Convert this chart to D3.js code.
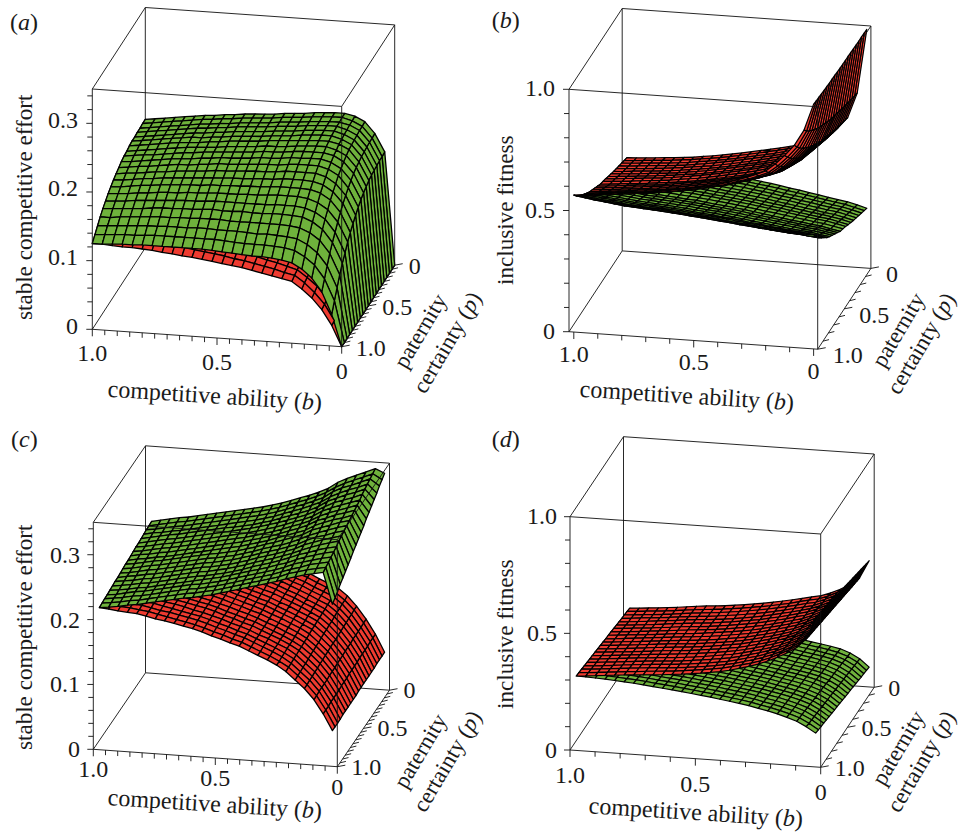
<!DOCTYPE html>
<html>
<head>
<meta charset="utf-8">
<script src="https://cdn.jsdelivr.net/npm/d3@7"></script>
<style>
  body { margin: 0; background: #fff; }
  text { font-family: "Liberation Serif", serif; fill: #1a1a1a; font-size: 24px; }
  text.ytitle { font-size: 23.1px; }
  text.xtitle { font-size: 24px; }
  text.ptitle { font-size: 23px; }
</style>
</head>
<body>
<svg id="chart" width="962" height="832"></svg>
<script>
// grid nodes, back row (p = 0) first
var pRows = d3.range(21).map(function (i) { return i / 20 })
var bColsFull = d3.range(26).map(function (i) { return 1 - i / 25 })
var bColsCut = [0.975, 0.937, 0.899, 0.86, 0.822, 0.784, 0.746, 0.708, 0.669, 0.631, 0.593, 0.555, 0.516, 0.478, 0.44, 0.402, 0.364, 0.326, 0.287, 0.249, 0.211, 0.173, 0.135, 0.096, 0.058, 0.02]

// surface heights in thousandths, one row per p
var aGreen = [
  [187,189,191,193,195,197,199,200,202,203,205,206,207,208,210,211,212,214,215,216,216,213,206,190,164,0],
  [187,189,191,193,195,197,199,200,202,203,205,206,207,208,210,211,212,214,215,216,216,212,205,189,163,0],
  [186,188,190,192,194,196,198,199,201,202,204,205,206,207,209,210,211,213,214,215,215,212,205,189,163,0],
  [186,188,190,192,194,196,198,199,201,202,204,205,206,207,209,210,211,213,214,215,215,211,204,188,162,0],
  [185,187,189,191,193,195,197,198,200,201,203,204,205,206,208,209,210,212,213,214,214,210,203,187,161,0],
  [185,187,189,191,193,195,197,197,199,200,202,203,204,205,207,208,209,211,212,213,213,209,202,186,160,0],
  [184,186,188,190,192,194,195,196,198,199,201,202,203,204,206,207,208,209,210,211,211,208,201,184,158,0],
  [182,184,186,188,190,192,194,195,196,197,199,200,201,202,204,204,205,207,208,209,209,205,198,182,155,0],
  [181,183,185,186,188,190,192,193,195,196,197,198,199,200,202,202,203,205,206,206,206,203,195,179,152,0],
  [179,180,182,184,186,188,189,190,192,193,195,195,196,197,199,199,200,202,202,203,203,199,191,175,148,0],
  [176,178,180,181,183,185,187,187,189,190,192,192,193,194,195,196,196,198,199,199,199,195,187,170,143,0],
  [173,175,176,178,180,181,183,184,185,186,188,188,189,190,191,191,192,194,194,194,194,190,181,165,137,0],
  [170,171,173,175,176,178,179,180,181,182,183,184,185,185,186,187,187,189,189,189,188,184,175,159,131,0],
  [166,167,169,171,172,174,175,176,177,177,179,179,180,180,181,181,182,183,183,183,182,178,169,152,124,0],
  [162,163,164,166,167,169,170,170,172,172,173,174,174,174,175,175,176,177,177,177,175,170,161,144,116,0],
  [157,158,159,161,162,163,164,165,166,166,167,168,168,168,168,168,168,169,169,169,167,162,153,135,106,0],
  [152,153,154,155,156,158,159,159,160,160,161,162,161,161,162,161,161,162,162,161,160,154,144,126,97,0],
  [146,146,148,149,150,151,152,152,153,153,154,154,154,153,153,153,153,153,153,152,150,144,134,116,86,0],
  [139,140,141,142,143,144,144,145,145,145,146,146,145,145,145,144,143,144,143,142,140,133,122,104,73,0],
  [132,133,134,135,135,136,137,137,137,137,137,137,137,136,135,134,134,134,133,132,129,121,110,91,60,0],
  [125,125,126,127,127,128,128,128,128,128,128,128,127,126,125,124,123,123,122,120,117,109,97,78,46,0]
]
var aRed = [
  [187,185,182,180,177,175,172,169,166,163,160,156,152,148,144,140,135,130,125,119,112,101,88,70,42,0],
  [187,185,182,180,177,175,172,169,166,163,160,156,152,148,144,140,135,130,125,119,112,101,88,70,42,0],
  [186,184,181,179,176,174,171,168,166,163,160,156,152,148,144,140,135,130,125,119,112,101,88,70,42,0],
  [186,184,181,179,176,174,171,168,165,162,159,155,151,147,143,139,135,130,125,119,112,101,88,70,42,0],
  [185,184,181,179,176,174,171,168,165,162,159,155,151,147,143,139,134,129,124,118,111,100,88,70,42,0],
  [185,183,180,178,175,173,170,167,164,161,158,154,151,147,143,139,134,129,124,118,111,100,87,69,42,0],
  [184,182,179,177,174,172,169,167,164,161,158,154,150,146,142,138,133,128,124,118,111,100,87,69,41,0],
  [182,181,178,176,173,171,168,165,162,159,157,153,149,145,141,137,133,128,123,117,110,99,87,69,41,0],
  [181,179,176,174,172,170,167,164,161,158,156,152,148,144,140,137,132,127,122,116,110,99,86,68,41,0],
  [179,177,174,172,170,168,165,162,160,157,154,150,146,143,139,135,131,126,121,115,109,98,85,68,40,0],
  [176,174,172,170,168,166,163,160,158,155,152,148,145,141,138,134,129,125,120,114,108,97,84,67,40,0],
  [173,172,169,167,165,163,161,158,155,152,150,146,143,139,136,132,128,123,118,113,107,96,84,66,39,0],
  [170,168,166,164,162,160,158,155,153,150,147,144,141,137,134,130,126,121,117,112,106,95,82,65,39,0],
  [166,165,162,161,159,157,155,152,150,147,145,141,138,135,131,128,124,119,115,110,105,94,81,64,38,0],
  [162,160,158,157,155,153,151,149,146,144,142,138,135,132,129,126,121,117,113,108,103,92,80,63,37,0],
  [157,156,154,152,151,149,147,145,142,140,138,135,132,129,126,123,119,115,111,106,101,91,78,61,36,0],
  [152,151,149,147,146,145,143,141,139,136,134,131,129,126,123,120,116,112,108,104,99,89,77,60,35,0],
  [146,145,143,142,141,140,138,136,134,132,130,127,125,122,119,117,113,109,106,102,97,87,75,58,34,0],
  [139,139,137,136,135,134,133,130,129,127,125,123,120,118,116,113,110,106,103,99,95,85,73,56,33,0],
  [132,132,131,130,129,128,127,125,124,122,120,118,116,114,111,109,106,103,100,96,93,83,70,54,31,0],
  [125,125,124,123,123,122,121,119,118,116,115,113,111,109,107,105,102,99,96,93,90,80,68,52,30,0]
]
var bGreen = [
  [386,382,378,374,370,366,362,359,355,352,348,343,338,333,327,322,315,308,302,295,288,281,274,268,258,247],
  [391,387,383,379,375,371,367,364,360,357,353,348,343,338,332,327,321,314,308,301,294,287,280,274,264,254],
  [397,393,388,384,380,376,372,369,365,362,358,354,349,344,338,333,326,319,313,307,300,293,286,280,271,260],
  [402,398,394,390,385,381,377,374,371,368,364,359,354,349,343,338,332,325,319,312,306,299,292,287,277,267],
  [407,403,399,395,391,387,383,380,376,373,369,364,359,354,349,344,337,330,325,318,311,305,298,293,284,274],
  [413,408,404,400,396,392,388,385,381,378,374,369,364,360,354,349,343,336,330,324,317,311,304,299,290,280],
  [419,415,410,406,402,398,394,391,387,384,380,375,371,366,360,355,349,343,337,331,324,318,312,306,298,288],
  [425,421,416,412,408,404,400,397,393,390,386,381,377,372,367,362,355,349,344,337,331,325,319,314,305,296],
  [433,428,423,419,415,410,407,404,400,397,393,389,384,379,374,369,363,357,351,345,339,333,327,322,314,305],
  [438,433,428,424,420,416,412,409,405,402,398,394,389,385,379,374,368,362,357,351,345,339,333,328,320,312],
  [443,438,434,429,425,421,417,414,410,407,404,399,394,390,385,380,374,368,362,356,350,345,339,334,326,318],
  [452,447,442,438,434,429,426,423,419,416,412,408,403,399,394,389,383,377,372,366,360,355,349,345,337,330],
  [461,456,451,447,442,438,434,431,428,425,421,417,412,408,403,398,392,387,381,376,370,365,359,355,348,341],
  [470,465,460,455,451,446,443,440,436,433,430,425,421,417,412,407,401,396,391,385,380,375,369,365,359,352],
  [479,474,468,464,459,455,451,448,445,442,438,434,430,426,421,416,411,405,400,395,389,384,380,376,369,363],
  [490,484,479,474,470,465,462,459,455,452,449,444,440,436,431,427,422,416,412,406,401,396,392,388,382,376],
  [502,496,491,486,482,477,474,471,467,464,461,457,452,449,444,440,435,430,425,420,415,410,406,403,397,392],
  [515,509,503,499,494,489,486,483,480,477,473,469,465,461,457,452,447,443,438,433,428,424,420,417,412,408],
  [529,523,517,512,508,503,500,497,493,490,487,483,479,475,471,467,462,458,453,449,444,440,436,434,429,425],
  [545,539,533,528,523,518,515,512,509,506,503,499,495,491,487,483,479,474,470,466,462,458,455,452,448,445],
  [565,558,552,547,542,537,534,531,528,525,522,518,514,511,507,503,499,495,491,487,483,480,477,475,472,470]
]
var bRed = [
  [386,388,391,394,397,400,404,408,414,419,425,432,439,447,455,463,471,480,489,499,510,535,570,615,720,985],
  [391,393,397,400,403,406,410,414,420,425,431,438,445,453,461,469,477,486,495,505,516,542,577,622,725,986],
  [397,399,402,405,408,411,415,419,425,430,436,443,450,458,466,474,482,492,501,511,523,548,583,628,731,987],
  [402,404,408,411,414,417,421,425,431,436,442,449,456,464,472,480,488,498,507,517,529,555,590,635,736,987],
  [407,410,413,416,420,423,427,431,437,442,447,454,461,469,477,485,494,503,513,523,535,561,596,641,742,988],
  [413,415,419,422,425,429,433,437,442,447,453,460,467,475,483,491,500,509,519,530,542,568,603,648,747,989],
  [419,422,425,428,432,435,439,443,449,454,460,467,474,482,490,498,506,516,526,537,549,575,611,656,753,990],
  [425,428,431,435,438,442,446,450,456,460,466,473,480,488,496,504,513,523,533,544,556,583,618,663,760,991],
  [433,435,439,442,446,449,453,457,463,468,474,481,488,496,504,512,521,531,541,552,565,591,627,672,767,991],
  [438,441,444,448,452,455,459,463,469,474,479,486,493,501,509,517,526,537,547,558,571,598,634,679,772,992],
  [443,446,450,454,457,461,465,469,474,479,485,492,499,507,515,523,532,542,553,564,577,604,640,685,778,993],
  [452,455,459,463,467,470,474,478,484,489,494,501,508,516,524,532,542,552,563,574,588,615,651,696,787,994],
  [461,464,468,472,476,480,484,488,493,498,504,511,518,526,534,542,551,562,573,585,598,626,662,707,796,996],
  [470,474,477,481,485,489,493,497,503,507,513,520,527,535,543,551,561,572,583,595,609,637,673,718,805,997],
  [479,483,487,491,495,499,503,507,512,517,522,529,536,544,552,560,570,581,592,605,619,648,684,729,814,998],
  [490,494,498,502,506,510,514,518,524,528,533,540,547,555,563,571,582,593,604,617,632,661,698,743,824,1000],
  [502,506,511,515,519,524,528,532,537,541,547,554,561,569,577,585,595,607,618,632,647,676,713,758,837,1001],
  [515,519,523,528,532,537,541,545,550,554,560,567,574,582,590,598,609,620,632,646,661,691,728,773,850,1003],
  [529,534,538,543,547,552,556,560,565,569,575,582,589,597,605,613,624,636,648,662,678,709,746,791,864,1005],
  [545,550,555,560,564,569,573,577,582,586,591,598,605,613,621,629,641,654,666,681,697,728,766,811,880,1007],
  [565,570,575,580,585,590,594,598,603,607,612,619,626,634,642,650,662,675,688,703,720,752,790,835,900,1010]
]
var cGreen = [
  [234,237,240,243,245,248,251,254,257,260,263,266,269,273,277,282,287,292,298,305,315,322,328,334,340,334],
  [233,236,239,242,244,247,250,253,256,259,262,265,268,272,276,281,286,291,297,304,313,320,326,332,338,330],
  [233,235,238,241,243,246,249,252,255,258,261,264,267,271,275,280,285,290,296,302,312,319,324,330,336,326],
  [232,235,237,240,242,245,248,251,254,257,260,263,266,270,274,279,284,289,295,301,310,317,323,328,334,321],
  [231,234,237,240,242,245,248,251,254,257,259,262,265,269,273,278,283,288,293,300,309,315,321,326,332,317],
  [230,233,236,239,241,244,247,250,253,256,259,262,265,269,273,277,282,287,292,299,307,314,319,324,330,313],
  [230,232,235,238,240,243,246,249,252,255,258,261,264,268,272,276,281,286,291,297,306,312,317,322,327,309],
  [229,231,234,237,239,242,245,248,251,254,257,260,263,267,271,275,280,285,290,296,304,310,315,320,325,305],
  [228,231,233,236,238,241,244,247,250,253,256,259,262,266,270,274,279,284,289,295,303,308,314,318,323,300],
  [227,230,232,235,237,240,243,246,249,252,255,258,261,265,269,273,278,283,288,293,301,307,312,316,321,296],
  [227,229,232,235,237,240,243,246,249,252,254,257,260,264,268,273,277,282,287,292,300,305,310,315,319,292],
  [226,228,231,234,236,239,242,245,248,251,253,256,259,263,267,272,276,280,285,291,298,303,308,313,317,288],
  [225,227,230,233,235,238,241,244,247,250,252,255,258,262,266,271,275,279,284,289,296,302,306,311,315,284],
  [224,227,229,232,234,237,240,243,246,249,251,254,257,261,265,270,274,278,283,288,295,300,305,309,313,279],
  [224,226,228,231,233,236,239,242,245,248,250,253,256,260,264,269,273,277,282,287,293,298,303,307,311,275],
  [223,225,227,230,232,235,238,241,244,247,249,252,255,259,263,268,272,276,281,286,292,296,301,305,308,271],
  [222,224,226,229,231,234,237,240,243,246,249,252,255,259,263,267,271,275,280,284,290,295,299,303,306,267],
  [221,223,226,229,231,234,237,240,243,246,248,251,254,258,262,266,270,274,278,283,289,293,297,301,304,263],
  [221,223,225,228,230,233,236,239,242,245,247,250,253,257,261,265,269,273,277,282,287,291,296,299,302,258],
  [220,222,224,227,229,232,235,238,241,244,246,249,252,256,260,264,268,272,276,280,286,290,294,297,300,254],
  [219,221,223,226,228,231,234,237,240,243,245,248,251,255,259,263,267,271,275,279,284,288,292,295,298,250]
]
var cRed = [
  [234,232,229,226,223,220,217,214,211,207,204,200,196,191,187,182,176,171,164,158,152,141,126,107,85,58],
  [233,231,228,225,223,220,217,214,211,207,204,200,196,191,187,182,176,171,164,158,151,140,126,107,85,58],
  [233,231,228,225,222,219,216,213,210,206,203,199,195,190,186,181,175,170,163,157,151,140,125,106,85,58],
  [232,230,227,224,222,219,216,213,210,206,203,199,195,190,186,181,175,170,163,157,150,139,125,106,84,58],
  [231,229,226,224,221,218,215,212,209,206,203,199,194,190,185,181,175,169,163,156,150,139,124,106,84,57],
  [230,229,226,223,221,218,215,212,209,205,202,198,194,189,185,180,174,169,162,156,149,138,124,106,84,57],
  [230,228,225,223,220,217,214,212,209,205,202,198,194,189,185,180,174,169,162,156,149,137,123,105,84,57],
  [229,227,224,222,220,217,214,211,208,205,202,198,193,189,184,180,174,168,162,155,148,137,123,105,83,57],
  [228,226,224,222,219,216,213,211,208,204,201,197,193,188,184,179,173,168,161,155,148,136,122,105,83,57],
  [227,226,223,221,219,216,213,210,207,204,201,197,192,188,183,179,173,167,161,154,147,136,122,104,83,57],
  [227,225,223,221,219,216,213,210,207,204,201,197,192,188,183,179,173,167,161,154,147,135,122,104,83,57],
  [226,224,222,220,218,215,212,210,207,203,200,196,192,187,183,178,172,167,160,154,146,134,121,104,82,56],
  [225,224,221,219,218,215,212,209,206,203,200,196,191,187,182,178,172,166,160,153,145,134,121,103,82,56],
  [224,223,221,219,217,214,211,209,206,202,199,195,191,186,182,177,171,166,159,153,145,133,120,103,82,56],
  [224,222,220,218,217,214,211,208,205,202,199,195,190,186,181,177,171,165,159,152,144,133,120,103,81,56],
  [223,222,219,218,216,213,210,208,205,202,199,195,190,186,181,177,171,165,159,152,144,132,119,102,81,56],
  [222,221,219,217,216,213,210,208,205,201,198,194,190,185,181,176,170,165,158,152,143,131,119,102,81,56],
  [221,220,218,217,215,213,210,207,204,201,198,194,189,185,180,176,170,164,158,151,143,131,118,102,81,55],
  [221,219,217,216,215,212,209,207,204,201,198,194,189,185,180,176,170,164,158,151,142,130,118,102,80,55],
  [220,219,217,216,214,212,209,206,203,200,197,193,188,184,179,175,169,163,157,150,142,130,117,101,80,55],
  [219,218,216,215,214,211,208,206,203,200,197,193,188,184,179,175,169,163,157,150,141,129,117,101,80,55]
]
var dGreen = [
  [266,263,260,256,253,250,246,242,238,233,228,223,218,213,208,203,197,190,183,176,170,163,155,140,118,85],
  [269,266,263,259,256,253,249,245,241,236,231,226,221,216,211,206,200,193,186,179,173,166,157,143,121,88],
  [271,269,266,262,259,256,252,248,244,239,234,229,224,219,214,209,203,196,189,182,176,168,160,145,123,91],
  [274,271,268,265,262,259,255,251,247,242,237,232,227,222,217,212,206,199,192,185,178,171,162,148,126,94],
  [277,274,271,268,265,262,258,254,250,245,240,235,230,225,220,215,209,202,195,188,181,174,165,150,128,97],
  [279,277,274,271,268,265,261,257,253,248,243,238,233,228,223,218,212,205,198,191,184,176,167,153,131,100],
  [282,280,277,273,270,267,264,260,255,251,246,241,236,231,226,221,215,208,201,193,187,179,170,155,134,103],
  [285,282,280,276,273,270,267,263,258,254,249,244,239,234,229,224,218,211,204,196,190,182,172,158,136,106],
  [287,285,282,279,276,273,270,266,261,257,252,247,242,237,232,227,221,214,207,199,192,184,175,160,139,109],
  [290,288,285,282,279,276,273,269,264,260,255,250,245,240,235,230,224,217,210,202,195,187,177,163,141,112],
  [293,291,288,285,282,279,276,272,267,263,258,253,248,243,238,233,227,220,213,205,198,190,180,165,144,115],
  [295,293,291,288,285,282,278,274,270,265,261,256,251,246,241,235,229,223,216,208,201,192,182,168,147,118],
  [298,296,294,291,288,285,281,277,273,268,264,259,254,249,244,238,232,226,219,211,204,195,184,170,149,121],
  [300,299,296,294,291,288,284,280,276,271,267,262,257,252,247,241,235,229,222,214,206,197,187,173,152,124],
  [303,302,299,297,294,291,287,283,279,274,270,265,260,255,250,244,238,232,225,217,209,200,189,175,154,127],
  [306,304,302,300,297,294,290,286,282,277,273,268,263,258,253,247,241,235,228,220,212,203,192,178,157,130],
  [308,307,305,302,299,296,293,289,284,280,276,271,266,261,256,250,244,238,231,222,215,205,194,180,160,133],
  [311,310,308,305,302,299,296,292,287,283,279,274,269,264,259,253,247,241,234,225,218,208,197,183,162,136],
  [314,313,310,308,305,302,299,295,290,286,282,277,272,267,262,256,250,244,237,228,220,211,199,185,165,139],
  [316,315,313,311,308,305,302,298,293,289,285,280,275,270,265,259,253,247,240,231,223,213,202,188,167,142],
  [319,318,316,314,311,308,305,301,296,292,288,283,278,273,268,262,256,250,243,234,226,216,204,190,170,145]
]
var dRed = [
  [267,270,274,277,281,285,290,295,299,302,306,311,316,322,328,335,343,351,360,369,377,392,410,434,465,541],
  [270,273,277,280,284,288,293,297,301,304,308,313,318,324,330,337,345,353,363,372,380,395,414,438,469,546],
  [272,275,279,282,286,290,295,300,304,307,311,316,321,327,333,340,348,356,365,375,383,399,417,441,473,551],
  [275,278,282,285,289,293,298,302,306,309,313,318,323,329,335,342,350,358,368,377,386,402,421,445,477,556],
  [277,280,284,288,292,296,300,305,309,312,316,320,325,331,337,344,352,361,370,380,390,405,424,448,481,561],
  [280,283,287,290,294,298,303,307,311,314,318,323,328,334,340,346,355,363,373,383,393,409,428,452,485,566],
  [283,286,290,293,297,301,305,310,313,316,320,325,330,336,342,349,357,366,375,386,396,412,431,456,489,571],
  [285,288,292,296,300,304,308,312,316,319,323,327,332,338,344,351,359,368,378,388,399,415,435,459,493,576],
  [288,291,295,298,302,306,310,315,318,321,325,330,335,340,346,353,361,371,380,391,402,419,438,463,497,581],
  [290,293,297,301,305,309,313,317,321,324,328,332,337,343,349,355,364,373,383,394,405,422,442,466,501,586],
  [293,296,300,303,307,311,315,319,323,326,330,334,339,345,351,357,366,375,385,396,408,425,445,470,505,590],
  [296,299,303,306,310,314,318,322,325,328,332,337,342,347,353,360,368,378,388,399,412,429,449,474,509,595],
  [298,301,305,309,313,317,321,324,328,331,335,339,344,350,356,362,371,380,391,402,415,432,452,477,513,600],
  [301,304,308,311,315,319,323,327,330,333,337,342,347,352,358,364,373,383,393,405,418,436,456,481,517,605],
  [303,306,310,314,318,322,326,329,333,336,340,344,349,354,360,367,375,385,396,408,421,439,459,484,521,610],
  [306,309,313,317,321,325,328,332,335,338,342,346,351,357,363,369,378,388,398,410,424,442,463,488,525,615],
  [309,312,316,319,323,327,331,334,337,340,344,349,354,359,365,371,380,390,401,413,427,446,466,492,529,620],
  [311,314,318,322,326,330,333,337,340,343,347,351,356,361,367,373,382,393,403,416,431,449,470,495,533,625],
  [314,317,321,325,329,333,336,339,342,345,349,353,358,363,369,376,384,395,406,419,434,452,473,499,537,630],
  [316,319,323,327,331,335,338,342,345,348,351,356,361,366,372,378,387,398,408,421,437,456,477,502,541,635],
  [319,322,326,330,334,338,341,344,347,350,354,358,363,368,374,380,389,400,411,424,440,459,480,506,545,640]
]

var green = '#6fb23c'
var red = '#ee3b30'

var svg = d3.select('#chart')
var sinE = 0.42
var tanE = 0.47

function axisLabel (v) { return v === 0 ? '0' : (v / 1000).toFixed(1) }
var fineTicks = d3.range(0, 21).map(function (i) { return i / 20 })
var coarseTicks = d3.range(0, 11).map(function (i) { return i / 10 })

var panels = [
  { id: 'a', x0: 92.3, y0: 329.3, bv: [249.4, 17.4], pv: [53, -81.5], h: 240.3, bDomain: [1, 0], zMax: 350, bCols: bColsFull,
    surfaces: [[aRed, red], [aGreen, green]], zTicks: d3.range(0, 351, 20), zMajor: [0, 100, 200, 300], bTicks: fineTicks, pTicks: fineTicks, mesh: 1.3,
    zLab: [78, 4.5], bLab: 32, pLab: [14, 9], yTitle: 'stable competitive effort', yt: [32, 320], xt: [107.3, 396.7], pat: [406, 370], cer: [425, 395], lab: [10, 30] },
  { id: 'b', x0: 569, y0: 331.7, bv: [248.7, 17.5], pv: [53.2, -80.8], h: 242.4, bDomain: [1.02, -0.017], zMax: 1000, bCols: bColsFull,
    surfaces: [[bGreen, green], [bRed, red]], zTicks: d3.range(0, 1001, 100), zMajor: [0, 500, 1000], bTicks: coarseTicks, pTicks: coarseTicks, mesh: 1.2,
    zLab: [555, 7], bLab: 30, pLab: [15, 14], yTitle: 'inclusive fitness', yt: [513, 285], xt: [579.3, 396.7], pat: [884, 369], cer: [899, 396], lab: [491.7, 28] },
  { id: 'c', x0: 93.3, y0: 749.3, bv: [244, 17.4], pv: [52.2, -76.5], h: 227, bDomain: [1, 0], zMax: 350, bCols: bColsCut,
    surfaces: [[cRed, red], [cGreen, green]], zTicks: d3.range(0, 351, 20), zMajor: [0, 100, 200, 300], bTicks: fineTicks, pTicks: fineTicks, mesh: 1.3,
    zLab: [80, 8], bLab: 28, pLab: [14, 8], yTitle: 'stable competitive effort', yt: [32, 750], xt: [107.3, 805], pat: [406, 790], cer: [425, 813.7], lab: [11, 447] },
  { id: 'd', x0: 570, y0: 750, bv: [250.7, 17.3], pv: [53.5, -80], h: 233.3, bDomain: [1, 0], zMax: 1000, bCols: bColsCut,
    surfaces: [[dGreen, green], [dRed, red]], zTicks: d3.range(0, 1001, 100), zMajor: [0, 500, 1000], bTicks: coarseTicks, pTicks: coarseTicks, mesh: 1.2,
    zLab: [557, 7.5], bLab: 33, pLab: [14, 8.5], yTitle: 'inclusive fitness', yt: [513.3, 709], xt: [588.3, 813.3], pat: [884, 787], cer: [899, 814], lab: [491.7, 447] }
]

function italicTail (sel, before, letter, after) {
  sel.append('tspan').text(before)
  sel.append('tspan').style('font-style', 'italic').text(letter)
  sel.append('tspan').text(after)
}

function drawPanel (cfg) {
  var g = svg.append('g').attr('class', 'panel-' + cfg.id)
  var bPos = d3.scaleLinear().domain(cfg.bDomain).range([0, 1])
  var pPos = d3.scaleLinear().domain([1, 0]).range([0, 1])
  var zPos = d3.scaleLinear().domain([0, cfg.zMax]).range([0, 1])

  function project (b, p, z) {
    return [cfg.x0 + bPos(b) * cfg.bv[0] + pPos(p) * cfg.pv[0],
      cfg.y0 + bPos(b) * cfg.bv[1] + pPos(p) * cfg.pv[1] - zPos(z) * cfg.h]
  }
  function closeness (b, p, z) {
    return (bPos(b) * cfg.bv[1] + pPos(p) * cfg.pv[1]) / sinE + zPos(z) * cfg.h * tanE
  }
  var path = d3.line()
  var bMin = cfg.bDomain[1]
  var bMax = cfg.bDomain[0]
  function edge (layer, a, b) {
    layer.append('path').attr('d', path([project.apply(null, a), project.apply(null, b)]))
      .attr('fill', 'none').attr('stroke', '#111').attr('stroke-width', 0.9)
  }

  // box edges that sit behind the surfaces
  var back = g.append('g')
  edge(back, [bMax, 0, 0], [bMax, 0, cfg.zMax])
  edge(back, [bMax, 0, 0], [bMin, 0, 0])
  edge(back, [bMax, 1, 0], [bMax, 0, 0])

  // every mesh cell of both surfaces, far ones first
  var cells = []
  cfg.surfaces.forEach(function (s) {
    var grid = s[0]
    for (var r = 0; r < pRows.length - 1; r++) {
      for (var c = 0; c < cfg.bCols.length - 1; c++) {
        var corners = [[c, r], [c + 1, r], [c + 1, r + 1], [c, r + 1]].map(function (k) {
          return [cfg.bCols[k[0]], pRows[k[1]], grid[k[1]][k[0]]]
        })
        cells.push({
          d: path(corners.map(function (k) { return project(k[0], k[1], k[2]) })) + 'Z',
          depth: d3.mean(corners, function (k) { return closeness(k[0], k[1], k[2]) }),
          fill: s[1]
        })
      }
    }
  })
  cells.sort(function (a, b) { return a.depth - b.depth })
  g.append('g').selectAll('path').data(cells).enter().append('path')
    .attr('d', function (d) { return d.d })
    .attr('fill', function (d) { return d.fill })
    .attr('stroke', '#000').attr('stroke-width', cfg.mesh).attr('stroke-linejoin', 'round')

  // rest of the box
  var front = g.append('g')
  edge(front, [bMax, 1, 0], [bMax, 1, cfg.zMax])
  edge(front, [bMin, 1, 0], [bMin, 1, cfg.zMax])
  edge(front, [bMin, 0, 0], [bMin, 0, cfg.zMax])
  edge(front, [bMax, 1, 0], [bMin, 1, 0])
  edge(front, [bMin, 1, 0], [bMin, 0, 0])
  edge(front, [bMax, 1, cfg.zMax], [bMin, 1, cfg.zMax])
  edge(front, [bMax, 0, cfg.zMax], [bMin, 0, cfg.zMax])
  edge(front, [bMax, 1, cfg.zMax], [bMax, 0, cfg.zMax])
  edge(front, [bMin, 1, cfg.zMax], [bMin, 0, cfg.zMax])

  // ticks
  var ticks = g.append('g')
  cfg.zTicks.forEach(function (v) {
    var a = project(bMax, 1, v)
    var major = cfg.zMajor.indexOf(v) >= 0
    ticks.append('path').attr('d', path([a, [a[0] - (major ? 6 : 5), a[1]]])).attr('stroke', '#111').attr('stroke-width', 0.9)
    if (major) {
      ticks.append('text').attr('x', cfg.zLab[0]).attr('y', a[1] + cfg.zLab[1]).attr('text-anchor', 'end').text(axisLabel(v))
    }
  })
  cfg.bTicks.forEach(function (v) {
    var a = project(v, 1, 0)
    var major = v === 0 || v === 0.5 || v === 1
    ticks.append('path').attr('d', path([a, [a[0], a[1] + (major ? 7 : 5)]])).attr('stroke', '#111').attr('stroke-width', 0.9)
    if (major) {
      ticks.append('text').attr('x', a[0]).attr('y', a[1] + cfg.bLab).attr('text-anchor', 'middle').text(v === 0 ? '0' : v.toFixed(1))
    }
  })
  cfg.pTicks.forEach(function (v) {
    var a = project(bMin, v, 0)
    var major = v === 0 || v === 0.5 || v === 1
    ticks.append('path').attr('d', path([a, [a[0] + (major ? 8 : 6), a[1] - 1.5]])).attr('stroke', '#111').attr('stroke-width', 0.9)
    if (major) {
      ticks.append('text').attr('x', a[0] + cfg.pLab[0]).attr('y', a[1] + cfg.pLab[1]).text(v === 0 ? '0' : v.toFixed(1))
    }
  })

  // titles
  g.append('text').attr('class', 'ytitle').attr('transform', 'translate(' + cfg.yt[0] + ',' + cfg.yt[1] + ') rotate(-90)').text(cfg.yTitle)
  italicTail(g.append('text').attr('class', 'xtitle').attr('transform', 'translate(' + cfg.xt[0] + ',' + cfg.xt[1] + ') rotate(3.6)'), 'competitive ability (', 'b', ')')
  g.append('text').attr('class', 'ptitle').attr('transform', 'translate(' + cfg.pat[0] + ',' + cfg.pat[1] + ') rotate(-59.5)').text('paternity')
  italicTail(g.append('text').attr('class', 'ptitle').attr('transform', 'translate(' + cfg.cer[0] + ',' + cfg.cer[1] + ') rotate(-59.5)'), 'certainty (', 'p', ')')
  italicTail(g.append('text').attr('x', cfg.lab[0]).attr('y', cfg.lab[1]), '(', cfg.id, ')')
}

panels.forEach(drawPanel)
</script>
</body>
</html>
